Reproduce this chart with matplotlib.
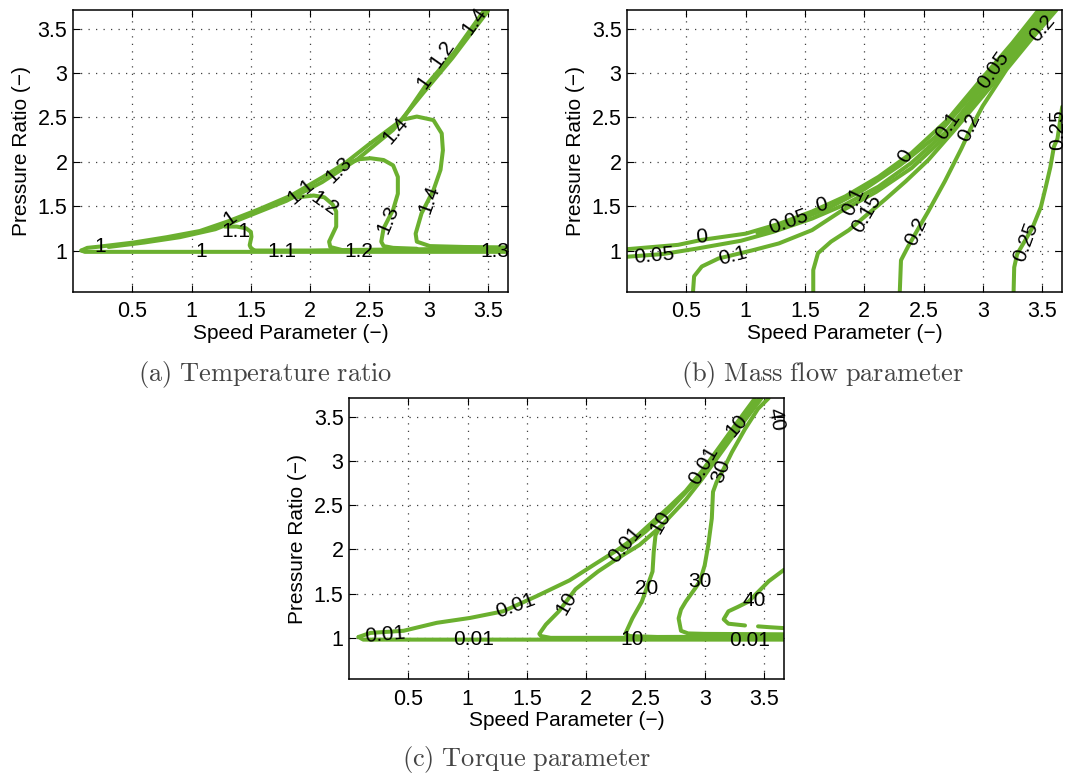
import matplotlib
matplotlib.use("Agg")
import matplotlib.pyplot as plt

plt.rcParams['font.family'] = ['Liberation Sans', 'DejaVu Sans']
plt.rcParams['mathtext.fontset'] = 'cm'

GREEN = '#6BB02F'

# ---------------- (a) Temperature ratio ----------------
ta_band_x = [0.07, 0.12, 0.23, 0.51, 0.79, 1.07, 1.31, 1.56, 1.84, 2.11, 2.30, 2.49, 2.78, 2.97, 3.22, 3.47]
ta_band_y = [1.00, 1.03, 1.045, 1.09, 1.15, 1.22, 1.33, 1.46, 1.62, 1.83, 1.99, 2.19, 2.48, 2.85, 3.24, 3.71]
ta_band2_x = [0.30, 0.60, 0.90, 1.20, 1.50, 1.80, 2.10, 2.40, 2.70, 2.95, 3.20, 3.50]
ta_band2_y = [1.04, 1.09, 1.15, 1.24, 1.40, 1.56, 1.77, 2.03, 2.36, 2.77, 3.17, 3.70]
ta_bot_x = [0.07, 0.10, 0.50, 1.00, 1.50, 2.00, 2.50, 3.00, 3.67]
ta_bot_y = [1.00, 0.985, 0.985, 0.985, 0.985, 0.985, 0.985, 0.985, 0.985]
ta_bot2_x = [1.53, 2.00, 2.27, 2.60, 3.00, 3.67]
ta_bot2_y = [1.00, 1.00, 1.005, 1.01, 1.015, 1.02]
ta_11_x = [1.28, 1.38, 1.46, 1.50, 1.505, 1.49, 1.50, 1.53]
ta_11_y = [1.27, 1.27, 1.25, 1.21, 1.155, 1.06, 1.03, 1.00]
ta_12_x = [1.90, 2.03, 2.12, 2.19, 2.22, 2.22, 2.16, 2.17, 2.27]
ta_12_y = [1.60, 1.62, 1.60, 1.52, 1.44, 1.27, 1.10, 1.04, 1.005]
ta_13_x = [2.33, 2.42, 2.51, 2.62, 2.70, 2.74, 2.74, 2.70, 2.62, 2.60, 2.62, 2.70, 2.90]
ta_13_y = [1.99, 2.03, 2.04, 2.02, 1.96, 1.83, 1.64, 1.46, 1.25, 1.10, 1.05, 1.03, 1.02]
ta_14_x = [2.80, 2.90, 3.04, 3.11, 3.12, 3.10, 3.04, 2.94, 2.89, 2.90, 3.01, 3.30, 3.67]
ta_14_y = [2.48, 2.51, 2.47, 2.32, 2.13, 1.91, 1.68, 1.42, 1.19, 1.10, 1.05, 1.04, 1.035]

ta_lab_text = ['1', '1', '1.1', '1', '1.1', '1.3', '1.4', '1', '1.2', '1.4',
               '1.2', '1.3', '1.4', '1.1', '1.2', '1.3']
ta_lab_x = [0.23, 1.085, 1.37, 1.32, 1.92, 2.24, 2.72, 2.96, 3.11, 3.38,
            2.12, 2.66, 3.00, 1.76, 2.41, 3.56]
ta_lab_y = [1.05, 0.985, 1.22, 1.36, 1.66, 1.91, 2.36, 2.90, 3.22, 3.59,
            1.53, 1.345, 1.57, 0.99, 0.99, 0.99]
ta_lab_rot = [0, 0, 0, 35, 40, 45, 50, 55, 55, 55,
              -35, 67, 70, 0, 0, 0]

# ---------------- (b) Mass flow parameter ----------------
mb_zero_x = [0.0, 0.43, 0.63, 1.0, 1.28, 1.56, 1.84, 2.12, 2.40, 2.70, 3.0, 3.25, 3.47]
mb_zero_y = [1.015, 1.064, 1.12, 1.19, 1.30, 1.44, 1.61, 1.83, 2.10, 2.47, 2.95, 3.34, 3.71]
mb_mid_x = [1.1, 1.4, 1.7, 2.0, 2.3, 2.6, 2.9, 3.2, 3.50]
mb_mid_y = [1.195, 1.32, 1.48, 1.69, 1.96, 2.28, 2.74, 3.22, 3.71]
mb_005_x = [0.0, 0.30, 0.58, 0.96, 1.23, 1.56, 1.84, 2.12, 2.40, 2.70, 3.0, 3.25, 3.53]
mb_005_y = [0.93, 0.96, 1.02, 1.11, 1.21, 1.36, 1.52, 1.72, 1.99, 2.35, 2.85, 3.25, 3.71]
mb_01_x = [0.556, 0.565, 0.63, 0.77, 1.05, 1.28, 1.56, 1.80, 2.10, 2.40, 2.70, 3.0, 3.3, 3.57]
mb_01_y = [0.54, 0.71, 0.82, 0.91, 1.0, 1.08, 1.23, 1.44, 1.66, 1.93, 2.30, 2.79, 3.28, 3.71]
mb_015_x = [1.57, 1.57, 1.61, 1.72, 1.87, 2.02, 2.18, 2.35, 2.54, 2.75, 3.0, 3.3, 3.60]
mb_015_y = [0.54, 0.78, 0.97, 1.10, 1.23, 1.40, 1.58, 1.78, 2.02, 2.34, 2.74, 3.22, 3.71]
mb_02_x = [2.30, 2.31, 2.37, 2.44, 2.54, 2.68, 2.82, 2.90, 3.00, 3.20, 3.42, 3.62]
mb_02_y = [0.54, 0.89, 1.045, 1.21, 1.44, 1.78, 2.15, 2.38, 2.63, 3.04, 3.40, 3.71]
mb_025_x = [3.26, 3.265, 3.29, 3.36, 3.42, 3.49, 3.53, 3.57, 3.60, 3.63, 3.67]
mb_025_y = [0.54, 0.81, 0.96, 1.12, 1.26, 1.49, 1.71, 1.94, 2.17, 2.26, 2.62]

mb_lab_text = ['0.05', '0', '0.1', '0.05', '0', '0.1', '0.15', '0', '0.1', '0.2',
               '0.05', '0.2', '0.25', '0.2', '0.25']
mb_lab_x = [0.23, 0.63, 0.89, 1.36, 1.64, 1.91, 2.02, 2.35, 2.71, 2.89,
            3.09, 3.50, 3.63, 2.44, 3.36]
mb_lab_y = [0.94, 1.15, 0.94, 1.32, 1.51, 1.55, 1.42, 2.06, 2.41, 2.39,
            3.03, 3.50, 2.36, 1.21, 1.10]
mb_lab_rot = [5, 5, 15, 20, 15, 65, 60, 60, 55, 65,
              55, 50, 90, 65, 70]

# ---------------- (c) Torque parameter ----------------
tc_upper_x = [0.08, 0.18, 0.46, 0.74, 1.02, 1.30, 1.58, 1.86, 2.07, 2.26, 2.42, 2.56, 2.70, 2.84, 2.98, 3.12, 3.26, 3.42]
tc_upper_y = [1.01, 1.056, 1.08, 1.17, 1.225, 1.30, 1.47, 1.65, 1.83, 1.99, 2.14, 2.31, 2.48, 2.66, 2.89, 3.15, 3.41, 3.70]
tc_band2_x = [2.30, 2.50, 2.70, 2.90, 3.10, 3.30, 3.46]
tc_band2_y = [1.99, 2.20, 2.44, 2.73, 3.07, 3.43, 3.71]
tc_bot_x = [0.08, 0.12, 0.50, 1.00, 1.50, 2.00, 2.50, 3.00, 3.67]
tc_bot_y = [1.01, 0.98, 0.98, 0.98, 0.98, 0.98, 0.98, 0.98, 0.98]
tc_10_x = [3.67, 2.50, 1.70, 1.62, 1.605, 1.66, 1.77, 1.91, 2.10, 2.28, 2.45, 2.63, 2.84, 2.98, 3.12, 3.26, 3.48]
tc_10_y = [1.00, 1.00, 1.00, 1.02, 1.045, 1.15, 1.30, 1.55, 1.75, 1.91, 2.05, 2.26, 2.56, 2.80, 3.06, 3.32, 3.71]
tc_20_x = [3.67, 2.60, 2.37, 2.33, 2.39, 2.47, 2.51, 2.56, 2.57, 2.585, 2.62]
tc_20_y = [1.015, 1.01, 1.02, 1.045, 1.22, 1.41, 1.56, 1.75, 1.97, 2.16, 2.25]
tc_30_x = [3.67, 3.00, 2.86, 2.80, 2.78, 2.80, 2.84, 2.92, 2.96, 3.00, 3.03, 3.06, 3.07, 3.10, 3.16, 3.23, 3.34, 3.45, 3.54]
tc_30_y = [1.04, 1.045, 1.05, 1.08, 1.22, 1.32, 1.41, 1.56, 1.64, 1.82, 2.05, 2.35, 2.65, 2.76, 2.91, 3.10, 3.36, 3.59, 3.71]
tc_40_x = [3.67, 3.54, 3.37, 3.28, 3.20, 3.16, 3.20, 3.34]
tc_40_y = [1.77, 1.64, 1.41, 1.35, 1.30, 1.21, 1.16, 1.14]
tc_40b_x = [3.45, 3.55, 3.67]
tc_40b_y = [1.13, 1.12, 1.11]

tc_lab_text = ['0.01', '0.01', '0.01', '10', '0.01', '10', '10', '20', '30', '40',
               '0.01', '0.01', '30', '10', '40']
tc_lab_x = [0.30, 1.05, 1.40, 1.83, 2.33, 2.63, 2.39, 2.51, 2.96, 3.42,
            3.38, 2.99, 3.14, 3.27, 3.60]
tc_lab_y = [1.03, 0.98, 1.36, 1.39, 2.05, 2.31, 0.98, 1.56, 1.64, 1.42,
            0.97, 2.95, 2.89, 3.40, 3.47]
tc_lab_rot = [5, 0, 20, 60, 50, 60, 0, 0, 0, 0,
              0, 60, 70, 50, -80]


def draw_panel(ax, lines, lab_text, lab_x, lab_y, lab_rot):
    for x, y in lines:
        ax.plot(x, y, color=GREEN, linewidth=2.9, solid_capstyle='round')
    for t, x, y, r in zip(lab_text, lab_x, lab_y, lab_rot):
        ax.text(x, y, t, rotation=r, ha='center', va='center',
                fontsize=15, color='black')
    ax.set_xlim(0, 3.67)
    ax.set_ylim(0.535, 3.71)
    ax.set_xticks([0.5, 1, 1.5, 2, 2.5, 3, 3.5])
    ax.set_xticklabels(['0.5', '1', '1.5', '2', '2.5', '3', '3.5'])
    ax.set_yticks([1, 1.5, 2, 2.5, 3, 3.5])
    ax.set_yticklabels(['1', '1.5', '2', '2.5', '3', '3.5'])
    ax.tick_params(direction='in', top=True, right=True, length=5, labelsize=15.5)
    ax.tick_params(axis='x', pad=7)
    ax.tick_params(axis='y', pad=4)
    ax.grid(True, linestyle=(0, (1, 5)), color='0.25', linewidth=0.9)
    for s in ax.spines.values():
        s.set_linewidth(1.1)
    ax.set_xlabel('Speed Parameter (\u2212)', fontsize=15, labelpad=1)
    ax.set_ylabel('Pressure Ratio (\u2212)', fontsize=15, labelpad=5)


fig = plt.figure(figsize=(10.85, 7.76), dpi=100)

ax1 = fig.add_axes([0.0673, 0.624, 0.401, 0.363])
draw_panel(ax1,
           [(ta_band_x, ta_band_y), (ta_band2_x, ta_band2_y), (ta_bot_x, ta_bot_y),
            (ta_bot2_x, ta_bot2_y), (ta_11_x, ta_11_y), (ta_12_x, ta_12_y),
            (ta_13_x, ta_13_y), (ta_14_x, ta_14_y)],
           ta_lab_text, ta_lab_x, ta_lab_y, ta_lab_rot)

ax2 = fig.add_axes([0.578, 0.624, 0.401, 0.363])
draw_panel(ax2,
           [(mb_zero_x, mb_zero_y), (mb_mid_x, mb_mid_y), (mb_005_x, mb_005_y),
            (mb_01_x, mb_01_y), (mb_015_x, mb_015_y), (mb_02_x, mb_02_y),
            (mb_025_x, mb_025_y)],
           mb_lab_text, mb_lab_x, mb_lab_y, mb_lab_rot)

ax3 = fig.add_axes([0.3217, 0.125, 0.401, 0.362])
draw_panel(ax3,
           [(tc_upper_x, tc_upper_y), (tc_band2_x, tc_band2_y), (tc_bot_x, tc_bot_y),
            (tc_10_x, tc_10_y), (tc_20_x, tc_20_y), (tc_30_x, tc_30_y),
            (tc_40_x, tc_40_y), (tc_40b_x, tc_40b_y)],
           tc_lab_text, tc_lab_x, tc_lab_y, tc_lab_rot)

cap_kw = dict(ha='center', va='center', fontsize=19, color='#444444')
fig.text(0.244, 0.517, r'$\mathrm{(a)\ Temperature\ ratio}$', **cap_kw)
fig.text(0.758, 0.517, r'$\mathrm{(b)\ Mass\ flow\ parameter}$', **cap_kw)
fig.text(0.485, 0.021, r'$\mathrm{(c)\ Torque\ parameter}$', **cap_kw)

fig.savefig('out.png', dpi=100)
